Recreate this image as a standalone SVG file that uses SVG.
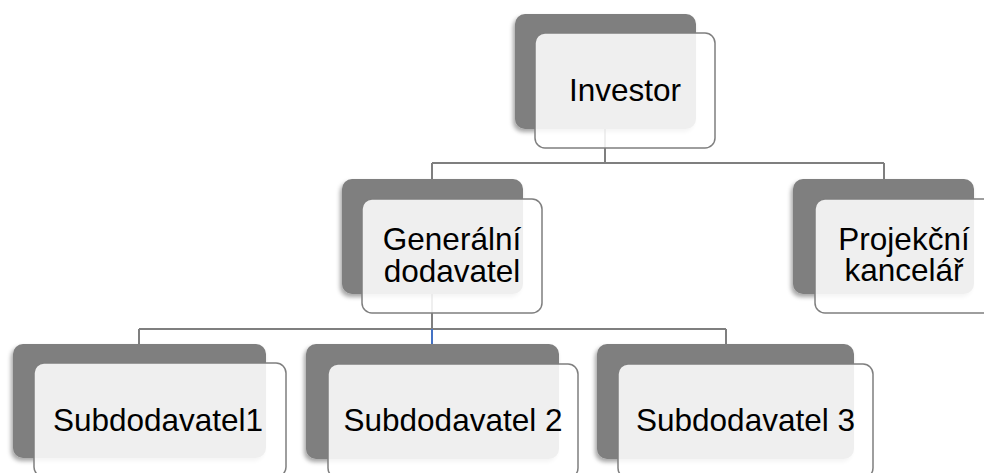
<svg xmlns="http://www.w3.org/2000/svg" width="984" height="473" viewBox="0 0 984 473">
<style>
.back{fill:#7f7f7f;filter:url(#sh)}
.front{fill:#fff;fill-opacity:0.88;stroke:#7f7f7f;stroke-width:1.5}
.lbl{font-family:"Liberation Sans",Arial,sans-serif;font-size:31.5px;fill:#000;text-anchor:middle}
.con{fill:none;stroke:#7f7f7f;stroke-width:2}
</style>
<defs>
<filter id="sh" x="-10%" y="-10%" width="120%" height="130%">
<feDropShadow dx="-2" dy="3" stdDeviation="2" flood-color="#000" flood-opacity="0.35"/>
</filter>
</defs>
<rect width="984" height="473" fill="#fff"/>
<g id="connectors">
<path class="con" d="M605,129 V163 M432,163 H884 M432,163 V179 M884,163 V179"/>
<path class="con" d="M432,294 V329 M139,329 H726 M139,329 V344 M726,329 V344"/>
<path d="M432,329 V344" fill="none" stroke="#4472c4" stroke-width="2"/>
</g>
<g id="investor">
<rect class="back" x="515" y="14" width="181" height="115" rx="10"/>
<rect class="front" x="535" y="33" width="180" height="115" rx="10"/>
<text class="lbl" x="625" y="101">Investor</text>
</g>
<g id="generalni">
<rect class="back" x="342" y="179" width="181" height="115" rx="10"/>
<rect class="front" x="362" y="199" width="180" height="114" rx="10"/>
<text class="lbl" x="452" y="250">Generální</text>
<text class="lbl" x="452" y="282">dodavatel</text>
</g>
<g id="projekcni">
<rect class="back" x="793" y="179" width="181" height="115" rx="10"/>
<rect class="front" x="815" y="199" width="180" height="114" rx="10"/>
<text class="lbl" x="904" y="250">Projekční</text>
<text class="lbl" x="904" y="281">kancelář</text>
</g>
<g id="sub1">
<rect class="back" x="13" y="344" width="253" height="114" rx="10"/>
<rect class="front" x="34" y="363" width="252" height="114" rx="10"/>
<text class="lbl" x="158" y="431">Subdodavatel1</text>
</g>
<g id="sub2">
<rect class="back" x="306" y="344" width="253" height="115" rx="10"/>
<rect class="front" x="328" y="364" width="250" height="114" rx="10"/>
<text class="lbl" x="453" y="431">Subdodavatel 2</text>
</g>
<g id="sub3">
<rect class="back" x="597" y="344" width="257" height="115" rx="10"/>
<rect class="front" x="618" y="364" width="255" height="114" rx="10"/>
<text class="lbl" x="745.5" y="431">Subdodavatel 3</text>
</g>
</svg>
